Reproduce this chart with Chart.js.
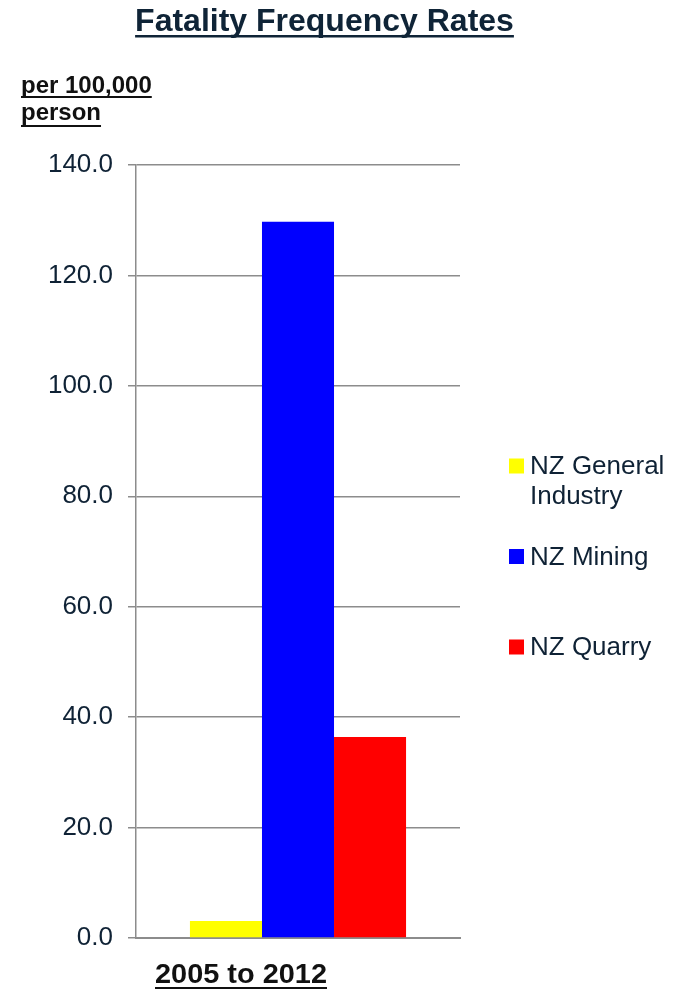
<!DOCTYPE html>
<html>
<head>
<meta charset="utf-8">
<script src="https://cdn.jsdelivr.net/npm/chart.js@4/dist/chart.umd.min.js"></script>
<style>
  html, body { margin: 0; padding: 0; background: #ffffff; }
  #wrap { width: 679px; height: 989px; }
</style>
</head>
<body>
<div id="wrap"><canvas id="c" width="679" height="989"></canvas></div>
<script>
// ---- data ----
const chartTitle = 'Fatality Frequency Rates';
const yAxisLabel = ['per 100,000', 'person'];
const categories = ['2005 to 2012'];
const seriesNames = ['NZ General Industry', 'NZ Mining', 'NZ Quarry'];
const seriesColors = ['#ffff00', '#0000ff', '#ff0000'];
const generalIndustry = [3.1];
const mining = [129.7];
const quarry = [36.4];
const yTicks = [0, 20, 40, 60, 80, 100, 120, 140];

const seriesValues = [generalIndustry, mining, quarry];
const FONT = '"Liberation Sans", Arial, Helvetica, sans-serif';
const DARK = '#0f2235';

function drawText(ctx, text, x, baseline, size, bold, color, align, targetWidth, underline, ulOffset, ulWidth) {
  ctx.save();
  ctx.font = (bold ? 'bold ' : '') + size + 'px ' + FONT;
  ctx.fillStyle = color;
  ctx.textBaseline = 'alphabetic';
  ctx.textAlign = 'left';
  const w = ctx.measureText(text).width;
  const sx = targetWidth ? targetWidth / w : 1;
  const drawnW = w * sx;
  let left = x;
  if (align === 'center') left = x - drawnW / 2;
  else if (align === 'right') left = x - drawnW;
  ctx.translate(left, baseline);
  ctx.scale(sx, 1);
  ctx.fillText(text, 0, 0);
  ctx.restore();
  if (underline) {
    ctx.save();
    ctx.fillStyle = color;
    ctx.fillRect(left, baseline + ulOffset, drawnW, ulWidth);
    ctx.restore();
  }
}

function wrapWords(ctx, text, maxW) {
  const words = text.split(' ');
  const lines = [];
  let cur = '';
  words.forEach(w => {
    const t = cur ? cur + ' ' + w : w;
    if (ctx.measureText(t).width > maxW && cur) { lines.push(cur); cur = w; }
    else cur = t;
  });
  if (cur) lines.push(cur);
  return lines;
}

const decorPlugin = {
  id: 'decor',
  afterDraw(chart) {
    const ctx = chart.ctx;
    // title
    drawText(ctx, chartTitle, 324.5, 31, 32, true, '#0f2437', 'center', null, true, 4, 2.5);
    // y-axis label (two lines, top-left)
    drawText(ctx, yAxisLabel[0], 21, 93, 24, true, '#111111', 'left', null, true, 3, 2);
    drawText(ctx, yAxisLabel[1], 21, 120, 24, true, '#111111', 'left', null, true, 5, 2);
    // category label under the axis
    drawText(ctx, categories[0], 241, 983, 28, true, '#111111', 'center', 172, true, 4, 2.5);
    // legend
    ctx.save();
    ctx.font = '26px ' + FONT;
    const step = 90.5;
    chart.data.datasets.forEach((ds, i) => {
      const base = 474 + step * i;
      ctx.fillStyle = ds.backgroundColor;
      ctx.fillRect(509, base - 15.5, 15, 15);
      const lines = wrapWords(ctx, ds.label, 145);
      ctx.fillStyle = DARK;
      ctx.textAlign = 'left';
      ctx.textBaseline = 'alphabetic';
      lines.forEach((ln, j) => ctx.fillText(ln, 530, base + j * 30));
    });
    ctx.restore();
  }
};

new Chart(document.getElementById('c'), {
  type: 'bar',
  data: {
    labels: categories,
    datasets: seriesNames.map((name, i) => ({
      label: name,
      data: seriesValues[i],
      backgroundColor: seriesColors[i],
      borderWidth: 0,
      categoryPercentage: 0.667,
      barPercentage: 1.0
    }))
  },
  options: {
    responsive: false,
    animation: false,
    events: [],
    layout: { padding: { top: 165, right: 219, bottom: 0, left: 0 } },
    plugins: {
      legend: { display: false },
      title: { display: false },
      tooltip: { enabled: false }
    },
    scales: {
      x: {
        grid: { display: false },
        border: { display: true, color: '#8c8c8c', width: 2 },
        ticks: { display: false },
        afterFit(scale) { scale.height = 51; }
      },
      y: {
        min: 0,
        max: 140,
        afterBuildTicks(scale) { scale.ticks = yTicks.map(v => ({ value: v })); },
        grid: { color: '#8c8c8c', lineWidth: 1.5, tickLength: 8, drawTicks: true },
        border: { display: true, color: '#8c8c8c', width: 1.5 },
        ticks: {
          padding: 15,
          color: DARK,
          font: { family: FONT, size: 26 },
          callback: v => Number(v).toFixed(1)
        },
        afterFit(scale) { scale.width = 136; }
      }
    }
  },
  plugins: [decorPlugin]
});
</script>
</body>
</html>
